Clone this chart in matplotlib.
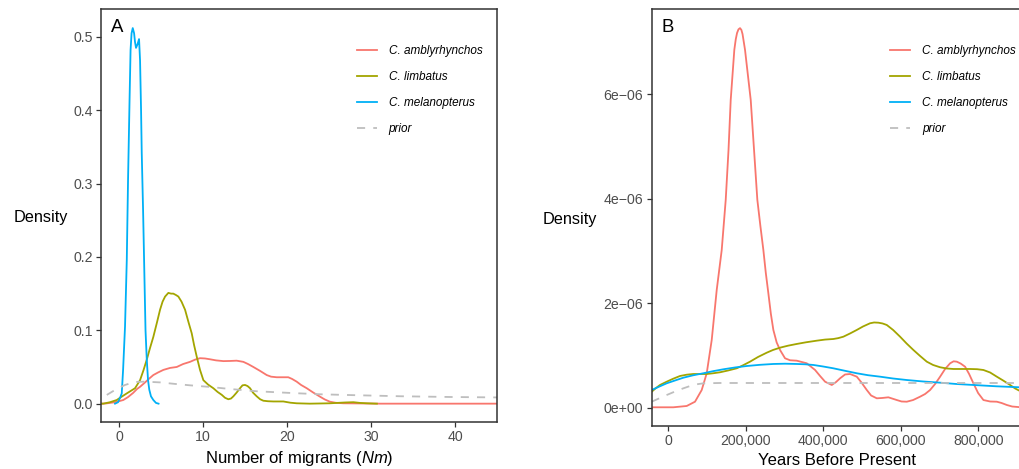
import matplotlib

matplotlib.use("Agg")
import matplotlib.pyplot as plt
from matplotlib.ticker import FuncFormatter

plt.rcParams["font.family"] = ["Liberation Sans", "DejaVu Sans"]
plt.rcParams["mathtext.fontset"] = "custom"
plt.rcParams["mathtext.rm"] = "Liberation Sans"
plt.rcParams["mathtext.it"] = "Liberation Sans:italic"

# ---- panel A: number of migrants (Nm), density ----
a_mel_x = [-0.48, -0.12, 0.12, 0.32, 0.48, 0.71, 0.92, 1.07, 1.25, 1.37, 1.49, 1.63,
           1.79, 1.90, 2.02, 2.20, 2.38, 2.50, 2.62, 2.70, 2.86, 2.98, 3.15, 3.30,
           3.45, 3.60, 3.80, 4.08, 4.40, 4.70]
a_mel_y = [0.0, 0.002, 0.008, 0.014, 0.046, 0.105, 0.196, 0.305, 0.414, 0.482, 0.505, 0.512,
           0.505, 0.493, 0.485, 0.490, 0.497, 0.468, 0.400, 0.342, 0.264, 0.196, 0.100, 0.060,
           0.032, 0.019, 0.010, 0.005, 0.001, 0.0]

a_lim_x = [-2.14, -1.87, -1.07, -0.27, 0.24, 0.92, 1.90, 2.50, 2.92, 3.30, 3.69, 4.08,
           4.52, 4.88, 5.18, 5.48, 5.87, 6.19, 6.46, 6.79, 7.06, 7.44, 7.86, 8.27,
           8.65, 8.93, 9.25, 9.64, 10.04, 10.6, 11.23, 11.73, 12.23, 12.62, 13.01, 13.33,
           13.61, 13.99, 14.4, 14.7, 15.0, 15.3, 15.6, 15.95, 16.39, 16.8, 17.18, 17.74,
           18.37, 18.9, 19.56, 20.4, 21.15, 22.7, 25.1, 26.9, 27.9, 28.7, 29.5, 30.7]
a_lim_y = [0.0, 0.0, 0.002, 0.005, 0.009, 0.014, 0.021, 0.032, 0.046, 0.060, 0.076, 0.091,
           0.111, 0.128, 0.139, 0.146, 0.151, 0.150, 0.150, 0.148, 0.146, 0.139, 0.128, 0.111,
           0.096, 0.080, 0.064, 0.046, 0.032, 0.026, 0.021, 0.016, 0.012, 0.008, 0.006, 0.007,
           0.010, 0.015, 0.021, 0.025, 0.0255, 0.024, 0.021, 0.015, 0.010, 0.006, 0.004, 0.0033,
           0.003, 0.003, 0.003, 0.0013, 0.0005, 0.0, 0.0005, 0.0016, 0.002, 0.001, 0.0005, 0.0]

a_amb_x = [-2.14, -1.55, -0.71, -0.12, 0.51, 1.07, 1.67, 2.14, 2.5, 3.1, 3.57, 4.08,
           4.64, 5.27, 6.07, 6.87, 7.62, 8.45, 9.05, 9.64, 10.24, 10.83, 11.55, 12.42,
           13.2, 14.0, 14.8, 15.36, 15.99, 16.8, 17.58, 18.1, 18.77, 19.4, 20.15, 20.6,
           21.15, 21.67, 22.35, 23.1, 23.93, 24.5, 25.1, 25.8, 26.7, 28.7, 31.1, 35.8, 45.0]
a_amb_y = [0.0, 0.0003, 0.0016, 0.003, 0.005, 0.009, 0.0146, 0.020, 0.023, 0.029, 0.034, 0.039,
           0.0425, 0.046, 0.0487, 0.050, 0.054, 0.057, 0.060, 0.062, 0.0616, 0.0605, 0.059, 0.058,
           0.0582, 0.0586, 0.057, 0.054, 0.050, 0.0446, 0.039, 0.0368, 0.036, 0.036, 0.036, 0.0337,
           0.030, 0.0255, 0.021, 0.0153, 0.0095, 0.0057, 0.0027, 0.0012, 0.0005, 0.0003, 0.0, 0.0, 0.0]

a_prior_x = [-1.46, -0.48, 0.71, 1.9, 3.1, 4.88, 6.67, 8.45, 10.83, 13.2, 16.4, 20.4,
             23.9, 28.3, 33.5, 39.4, 45.0]
a_prior_y = [0.0119, 0.0187, 0.0255, 0.0296, 0.030, 0.029, 0.0269, 0.025, 0.0228, 0.020, 0.0169, 0.0146,
             0.0128, 0.0115, 0.0101, 0.0091, 0.0085]

# ---- panel B: years before present, density in units of 1e-6 ----
b_amb_x = [-42840, 12900, 47480, 68900, 86190, 99100, 112000, 124900, 137800, 148100,
           155300, 161000, 170300, 174000, 177300, 181000, 185000, 188500, 191500, 197900,
           212600, 221200, 229700, 237500, 245200, 251500, 258100, 264500, 271000, 279500,
           288200, 301100, 314000, 331300, 357200, 378600, 391500,
           404400, 421700, 432800, 443100, 456000, 468900, 486200, 497300, 512000, 523100,
           537800, 551500, 567700, 577300, 589400, 601800, 615200, 631500, 649500, 662400,
           675300, 688200, 701200, 714000, 727000, 736000, 744200, 754000, 765600, 776000,
           787100, 799200, 812900, 830200, 847400, 859800, 873300, 887000, 915000]
b_amb_y = [0.008, 0.008, 0.033, 0.115, 0.339, 0.659, 1.296, 2.254, 3.019, 3.977,
           4.93, 5.891, 6.849, 7.05, 7.17, 7.24, 7.264, 7.23, 7.15, 6.849,
           5.891, 4.93, 3.977, 3.48, 3.019, 2.58, 2.19, 1.80, 1.488, 1.25,
           1.105, 0.946, 0.908, 0.90, 0.85, 0.722, 0.607,
           0.498, 0.435, 0.492, 0.563, 0.636, 0.645, 0.594, 0.492, 0.339, 0.234,
           0.180, 0.186, 0.199, 0.176, 0.147, 0.119, 0.115, 0.147, 0.211, 0.262,
           0.339, 0.454, 0.594, 0.741, 0.85, 0.888, 0.881, 0.846, 0.785, 0.645,
           0.467, 0.281, 0.147, 0.119, 0.115, 0.090, 0.052, 0.023, 0.005]

b_lim_x = [-42840, -31700, -21400, -4130, 12100, 30190, 47480, 64520, 81800, 99100,
           115400, 133400, 154100, 176500, 192800, 210800, 231500, 253900, 270200, 288200,
           308900, 331300, 355300, 383000, 404400, 425800, 438000, 451600, 468900, 486200,
           502400, 520500, 530800, 541900, 552800, 563600, 579900, 597900, 614700, 632200,
           649500, 666800, 683000, 701100, 717900, 735500, 756600, 778500, 796600, 812900,
           830200, 847400, 863700, 881800, 894700, 915000]
b_lim_y = [0.306, 0.377, 0.435, 0.498, 0.553, 0.607, 0.632, 0.645, 0.645, 0.645,
           0.659, 0.678, 0.712, 0.754, 0.812, 0.881, 0.971, 1.053, 1.105, 1.149,
           1.187, 1.22, 1.252, 1.283, 1.304, 1.315, 1.331, 1.359, 1.421, 1.488,
           1.555, 1.616, 1.631, 1.627, 1.612, 1.583, 1.488, 1.359, 1.229, 1.105,
           0.99, 0.881, 0.818, 0.774, 0.751, 0.741, 0.741, 0.741, 0.737, 0.722,
           0.674, 0.594, 0.521, 0.435, 0.368, 0.29]

b_mel_x = [-42840, -24000, -4130, 17290, 38710, 63740, 90320, 115400, 141900, 172100,
           202300, 236600, 271000, 301100, 331300, 352800, 374200, 399200, 425800, 456000,
           486200, 515300, 546300, 579900, 615200, 657300, 701200, 742400, 787100, 845700,
           915000]
b_mel_y = [0.339, 0.402, 0.467, 0.521, 0.574, 0.620, 0.659, 0.699, 0.735, 0.770,
           0.798, 0.821, 0.837, 0.842, 0.837, 0.831, 0.818, 0.789, 0.754, 0.706,
           0.659, 0.622, 0.594, 0.559, 0.530, 0.502, 0.479, 0.454, 0.435, 0.41,
           0.388]

b_prior_x = [-42840, -21400, -4130, 17290, 38710, 56000, 73300, 90320, 133400, 340000,
             598000, 915000]
b_prior_y = [0.115, 0.186, 0.243, 0.31, 0.371, 0.415, 0.448, 0.467, 0.473, 0.473,
             0.473, 0.473]

species = ["C. amblyrhynchos", "C. limbatus", "C. melanopterus"]
colors = ["#F8766D", "#A3A500", "#00B0F6"]
prior_color = "#BEBEBE"
ink = "#333333"
tick_grey = "#4D4D4D"


def style_axes(ax):
    for side in ("left", "right", "top", "bottom"):
        ax.spines[side].set_color(ink)
        ax.spines[side].set_linewidth(1.1)
    ax.tick_params(direction="out", length=3.5, width=0.9, color=ink,
                   labelcolor=tick_grey, labelsize=10.2, pad=2.5)


def add_legend(ax, x0, y0):
    leg = ax.legend(loc="upper left", bbox_to_anchor=(x0, y0), frameon=False,
                    prop={"style": "italic", "size": 8.5}, handlelength=1.7,
                    handletextpad=1.0, labelspacing=1.2, borderpad=0,
                    borderaxespad=0)
    return leg


fig = plt.figure(figsize=(10.2, 4.69), dpi=100)
ax_a = fig.add_axes([101 / 1020, 1 - 422 / 469, 396 / 1020, 413 / 469])
ax_b = fig.add_axes([651.7 / 1020, 1 - 426 / 469, 371.3 / 1020, 417 / 469])

lw = 1.3
dash = (0, (4.5, 4.5))

# panel A
for xs, ys, name, c in zip([a_amb_x, a_lim_x, a_mel_x], [a_amb_y, a_lim_y, a_mel_y],
                           species, colors):
    ax_a.plot(xs, ys, color=c, lw=lw, label=name)
ax_a.plot(a_prior_x, a_prior_y, color=prior_color, lw=lw, ls=dash, label="prior")
ax_a.set_xlim(-2.15, 45.0)
ax_a.set_ylim(-0.025, 0.538)
ax_a.set_xticks([0, 10, 20, 30, 40])
ax_a.set_yticks([0.0, 0.1, 0.2, 0.3, 0.4, 0.5])
ax_a.yaxis.set_major_formatter(FuncFormatter(lambda v, p: f"{v:.1f}"))
style_axes(ax_a)
ax_a.set_xlabel("Number of migrants ($Nm$)", fontsize=12, labelpad=3)
ax_a.set_ylabel("Density", rotation=0, fontsize=11.7, ha="right", va="center")
ax_a.yaxis.set_label_coords(-0.084, 0.494)
ax_a.text(0.024, 0.975, "A", transform=ax_a.transAxes, fontsize=13.4,
          ha="left", va="top")
add_legend(ax_a, 0.646, 0.913)

# panel B
scale = 1e-6
for xs, ys, name, c in zip([b_amb_x, b_lim_x, b_mel_x], [b_amb_y, b_lim_y, b_mel_y],
                           species, colors):
    ax_b.plot(xs, [v * scale for v in ys], color=c, lw=lw, label=name)
ax_b.plot(b_prior_x, [v * scale for v in b_prior_y], color=prior_color, lw=lw, ls=dash,
          label="prior")
ax_b.set_xlim(-42840, 915000)
ax_b.set_ylim(-0.35e-6, 7.63e-6)
ax_b.set_xticks([0, 200000, 400000, 600000, 800000])
ax_b.set_xticklabels(["0", "200,000", "400,000", "600,000", "800,000"])
ax_b.set_yticks([0, 2e-6, 4e-6, 6e-6])
ax_b.set_yticklabels(["0e+00", "2e\u221206", "4e\u221206", "6e\u221206"])
style_axes(ax_b)
ax_b.set_xlabel("Years Before Present", fontsize=12, labelpad=3)
ax_b.set_ylabel("Density", rotation=0, fontsize=11.7, ha="right", va="center")
ax_b.yaxis.set_label_coords(-0.148, 0.496)
ax_b.text(0.026, 0.975, "B", transform=ax_b.transAxes, fontsize=13.4,
          ha="left", va="top")
add_legend(ax_b, 0.642, 0.914)

fig.savefig("out.png", dpi=100)
plt.close(fig)
